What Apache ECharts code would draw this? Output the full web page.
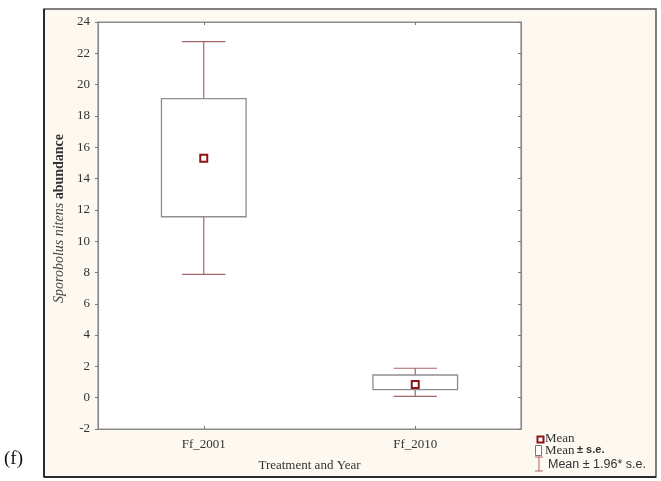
<!DOCTYPE html>
<html>
<head>
<meta charset="utf-8">
<script src="https://cdn.jsdelivr.net/npm/echarts@6/dist/echarts.min.js"></script>
<style>
html,body{margin:0;padding:0;background:#fff;}
#chart{width:661px;height:481px;}
</style>
</head>
<body>
<div id="chart"></div>
<script>
// ---- data ----
var categories = ['Ff_2001', 'Ff_2010'];
var means = [15.30, 0.84];
var seLow = [11.56, 0.52];
var seHigh = [19.11, 1.45];
var ciLow = [7.88, 0.09];
var ciHigh = [22.74, 1.88];
var yTicks = [-2, 0, 2, 4, 6, 8, 10, 12, 14, 16, 18, 20, 22, 24];

var WHISKER = '#a8646a';
var BOXC = '#8e8e8e';
var MEANC = '#8b1414';
var SERIF = '"Liberation Serif", "Times New Roman", serif';
var SANS = '"Liberation Sans", Arial, sans-serif';

var boxData = categories.map(function (c, i) {
  return [i, ciLow[i], seLow[i], seHigh[i], ciHigh[i]];
});
var meanData = categories.map(function (c, i) { return [i, means[i]]; });

var chart = echarts.init(document.getElementById('chart'));

function renderBox(params, api) {
  var idx = api.value(0);
  var band = api.size([1, 0])[0];
  var bw = band * 0.40;
  var cw = band * 0.205;
  var pLo = api.coord([idx, api.value(1)]);
  var pSL = api.coord([idx, api.value(2)]);
  var pSH = api.coord([idx, api.value(3)]);
  var pHi = api.coord([idx, api.value(4)]);
  var x = pLo[0];
  var wStyle = { stroke: WHISKER, lineWidth: 1.2, fill: null };
  return {
    type: 'group',
    children: [
      { type: 'line', shape: { x1: x, y1: pHi[1], x2: x, y2: pSH[1] }, style: wStyle },
      { type: 'line', shape: { x1: x, y1: pSL[1], x2: x, y2: pLo[1] }, style: wStyle },
      { type: 'line', shape: { x1: x - cw / 2, y1: pHi[1], x2: x + cw / 2, y2: pHi[1] }, style: wStyle },
      { type: 'line', shape: { x1: x - cw / 2, y1: pLo[1], x2: x + cw / 2, y2: pLo[1] }, style: wStyle },
      { type: 'rect', shape: { x: x - bw / 2, y: pSH[1], width: bw, height: pSL[1] - pSH[1] },
        style: { stroke: BOXC, lineWidth: 1.3, fill: 'rgba(0,0,0,0)' } }
    ]
  };
}

var option = {
  backgroundColor: '#ffffff',
  animation: false,
  grid: {
    left: 98, top: 22, right: 140, bottom: 52,
    show: true, backgroundColor: '#ffffff', borderColor: '#8c8c8c', borderWidth: 1.2
  },
  xAxis: [{
    type: 'category', data: categories, boundaryGap: true,
    axisLine: { show: true, onZero: false, lineStyle: { color: '#8c8c8c', width: 1.2 } },
    axisTick: { show: true, alignWithLabel: true, inside: true, length: 3, lineStyle: { color: '#777' } },
    axisLabel: { color: '#333', fontFamily: SERIF, fontSize: 13, margin: 9 },
    name: 'Treatment and Year', nameLocation: 'middle', nameGap: 30,
    nameTextStyle: { color: '#333', fontFamily: SERIF, fontSize: 13 }
  }, {
    type: 'category', data: categories, position: 'top', boundaryGap: true,
    axisLine: { show: true, onZero: false, lineStyle: { color: '#8c8c8c', width: 1.2 } },
    axisTick: { show: true, alignWithLabel: true, inside: true, length: 3, lineStyle: { color: '#777' } },
    axisLabel: { show: false }
  }],
  yAxis: [{
    type: 'value', min: -2, max: 24, interval: 2,
    axisLine: { show: true, onZero: false, lineStyle: { color: '#8c8c8c', width: 1.2 } },
    axisTick: { show: true, length: 3, lineStyle: { color: '#777' } },
    splitLine: { show: false },
    axisLabel: { color: '#333', fontFamily: SERIF, fontSize: 13, margin: 8,
      formatter: function (v) { return yTicks.indexOf(v) >= 0 ? String(v) : ''; } },
    name: '{it|Sporobolus nitens} {bd|abundance}', nameLocation: 'middle', nameGap: 30, nameRotate: 90,
    nameTextStyle: {
      color: '#333', fontFamily: SERIF, fontSize: 14, padding: [0, 0, 0, 14],
      rich: {
        it: { fontStyle: 'italic', fontFamily: SERIF, fontSize: 14, color: '#444' },
        bd: { fontWeight: 'bold', fontFamily: SERIF, fontSize: 14, color: '#333' }
      }
    }
  }, {
    type: 'value', min: -2, max: 24, interval: 2, position: 'right',
    axisLine: { show: true, onZero: false, lineStyle: { color: '#8c8c8c', width: 1.2 } },
    axisTick: { show: true, inside: true, length: 3, lineStyle: { color: '#777' } },
    splitLine: { show: false },
    axisLabel: { show: false }
  }],
  graphic: [
    { type: 'rect', z: -10, silent: true,
      shape: { x: 44, y: 9, width: 612, height: 468 },
      style: { fill: '#fdf8f0', stroke: '#555', lineWidth: 1.5 } },
    { type: 'line', z: -9, silent: true, shape: { x1: 44, y1: 9, x2: 44, y2: 477 }, style: { stroke: '#111', lineWidth: 1.5 } },
    { type: 'line', z: -9, silent: true, shape: { x1: 44, y1: 477, x2: 656, y2: 477 }, style: { stroke: '#111', lineWidth: 1.5 } },
    { type: 'text', left: 4, top: 450, style: { text: '(f)', font: '19px ' + SERIF, fill: '#111' } },
    // legend
    { type: 'rect', shape: { x: 537.5, y: 436.5, width: 6, height: 6 }, style: { fill: '#fff', stroke: MEANC, lineWidth: 2 } },
    { type: 'text', left: 545, top: 432, style: { text: 'Mean', font: '13px ' + SERIF, fill: '#333' } },
    { type: 'rect', shape: { x: 535.5, y: 445.5, width: 6, height: 10 }, style: { fill: '#fff', stroke: '#777', lineWidth: 1 } },
    { type: 'text', left: 545, top: 444, style: { text: 'Mean', font: '13px ' + SERIF, fill: '#333' } },
    { type: 'text', left: 577, top: 444, style: { text: '± s.e.', font: 'bold 11px ' + SANS, fill: '#333' } },
    { type: 'line', shape: { x1: 539, y1: 457, x2: 539, y2: 471 }, style: { stroke: WHISKER, lineWidth: 1 } },
    { type: 'line', shape: { x1: 535, y1: 457, x2: 543, y2: 457 }, style: { stroke: WHISKER, lineWidth: 1 } },
    { type: 'line', shape: { x1: 535, y1: 471, x2: 543, y2: 471 }, style: { stroke: WHISKER, lineWidth: 1 } },
    { type: 'text', left: 548, top: 458, style: { text: 'Mean ± 1.96* s.e.', font: '12.5px ' + SANS, fill: '#333' } }
  ],
  series: [{
    type: 'custom', xAxisIndex: 0, yAxisIndex: 0,
    renderItem: renderBox,
    encode: { x: 0, y: [1, 2, 3, 4] },
    data: boxData, z: 2
  }, {
    type: 'scatter', xAxisIndex: 0, yAxisIndex: 0,
    data: meanData, symbol: 'rect', symbolSize: 7,
    itemStyle: { color: '#ffffff', borderColor: MEANC, borderWidth: 2, opacity: 1 },
    z: 3
  }]
};
chart.setOption(option);
</script>
</body>
</html>
